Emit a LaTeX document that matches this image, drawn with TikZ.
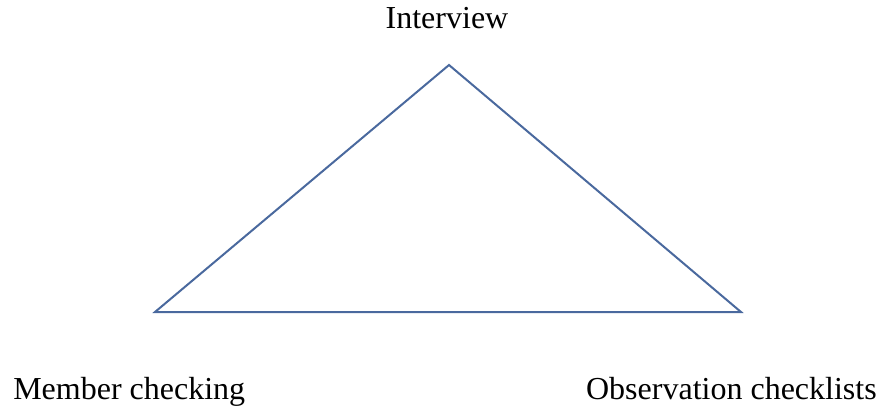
\documentclass[tikz,border=0pt]{standalone}
\usepackage{fontspec}
\setmainfont{Liberation Serif}
\begin{document}
\begin{tikzpicture}[
    x=0.75pt, y=-0.75pt,
    side/.style={draw=triline,line width=1.5pt,line join=miter},
    label/.style={inner sep=0pt,font=\fontsize{24}{28}\selectfont}
    ]
    \definecolor{triline}{HTML}{4A699E}
    \useasboundingbox (0,0) rectangle (883,408);

    % corners of the triangle:
    \coordinate (top) at (449, 65);
    \coordinate (left) at (155, 312);
    \coordinate (right) at (741, 312);

    % labels:
    \node (interview) at (447, 28) [label,anchor=base] {Interview};
    \node (member) at (13, 399) [label,anchor=base west] {Member checking};
    \node (observation) at (877, 399) [label,anchor=base east] {Observation checklists};

    % connect corners:
    \draw [side] (left) -- (top) -- (right) -- cycle;

  \end{tikzpicture}
\end{document}
